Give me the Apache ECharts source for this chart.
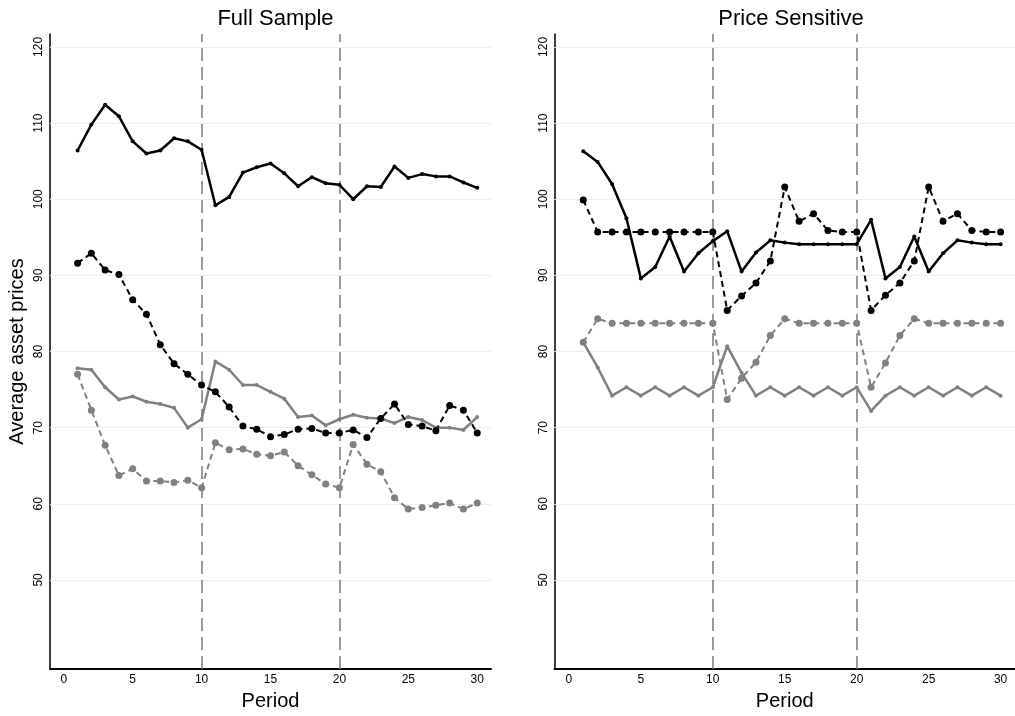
<!DOCTYPE html>
<html>
<head>
<meta charset="utf-8">
<script src="https://cdn.jsdelivr.net/npm/echarts@6/dist/echarts.min.js"></script>
<style>html,body{margin:0;padding:0;background:#fff}#c{width:1015px;height:716px}</style>
</head>
<body>
<div id="c"></div>
<script>
var periods = [1,2,3,4,5,6,7,8,9,10,11,12,13,14,15,16,17,18,19,20,21,22,23,24,25,26,27,28,29,30];
var xTicks = [0,5,10,15,20,25,30];
var yTicks = [50,60,70,80,90,100,110,120];
var breakPeriods = [10,20];

// Full Sample
var fullBlackSolid = [106.4,109.8,112.4,110.9,107.6,106.0,106.4,108.0,107.6,106.5,99.2,100.3,103.5,104.2,104.7,103.4,101.7,102.9,102.1,101.9,100.0,101.7,101.6,104.3,102.8,103.3,103.0,103.0,102.2,101.5];
var fullBlackDash = [91.6,92.9,90.7,90.1,86.8,84.9,80.9,78.4,77.0,75.6,74.7,72.7,70.2,69.8,68.8,69.1,69.8,69.9,69.3,69.3,69.7,68.7,71.2,73.1,70.4,70.2,69.6,72.9,72.3,69.3];
var fullGraySolid = [77.8,77.6,75.3,73.7,74.1,73.4,73.1,72.6,70.0,71.1,78.7,77.6,75.6,75.6,74.7,73.8,71.4,71.6,70.3,71.1,71.7,71.3,71.2,70.6,71.4,71.0,70.0,70.0,69.7,71.4];
var fullGrayDash = [77.0,72.3,67.7,63.7,64.6,63.0,63.0,62.8,63.1,62.1,68.0,67.1,67.2,66.5,66.3,66.8,65.0,63.8,62.6,62.1,67.8,65.2,64.2,60.8,59.3,59.5,59.8,60.1,59.3,60.1];

// Price Sensitive
var psBlackSolid = [106.3,104.9,102.0,97.5,89.6,91.1,95.1,90.5,92.9,94.5,95.8,90.5,93.0,94.6,94.3,94.1,94.1,94.1,94.1,94.1,97.3,89.6,91.1,95.1,90.5,92.9,94.6,94.3,94.1,94.1];
var psBlackDash = [99.9,95.7,95.7,95.7,95.7,95.7,95.7,95.7,95.7,95.7,85.4,87.3,89.0,91.9,101.6,97.1,98.1,95.9,95.7,95.7,85.4,87.4,89.0,91.9,101.6,97.1,98.1,95.9,95.7,95.7];
var psGraySolid = [81.2,77.9,74.2,75.3,74.2,75.3,74.2,75.3,74.2,75.3,80.7,77.2,74.2,75.3,74.2,75.3,74.2,75.3,74.2,75.3,72.2,74.2,75.3,74.2,75.3,74.2,75.3,74.2,75.3,74.2];
var psGrayDash = [81.2,84.3,83.7,83.7,83.7,83.7,83.7,83.7,83.7,83.7,73.7,76.5,78.6,82.1,84.3,83.7,83.7,83.7,83.7,83.7,75.3,78.5,82.1,84.3,83.7,83.7,83.7,83.7,83.7,83.7];

var titles = ['Full Sample', 'Price Sensitive'];
var FONT = '"Liberation Sans", Arial, Helvetica, sans-serif';
var BLACK = '#000000', GRAY = '#808080';

function pairs(vals){ return periods.map(function(p,i){ return [p, vals[i]]; }); }

var grids = [
  {left: 50, top: 34, width: 441, height: 642},
  {left: 554.5, top: 34, width: 466, height: 642}
];

var xAxes = [], yAxes = [], series = [];
[0,1].forEach(function(g){
  xAxes.push({
    type: 'value', gridIndex: g, min: -1, max: 31,
    name: 'Period', nameLocation: 'middle', nameGap: 22,
    nameTextStyle: {fontFamily: FONT, fontSize: 20, color: '#000'},
    axisLine: {show: true, onZero: false, lineStyle: {color: '#000', width: 2}},
    axisTick: {show: false},
    splitLine: {show: false},
    axisLabel: {customValues: xTicks, fontFamily: FONT, fontSize: 12, color: '#000', margin: 5}
  });
  yAxes.push({
    type: 'value', gridIndex: g, min: 38.3, max: 121.7,
    name: g === 0 ? 'Average asset prices' : '', nameLocation: 'middle', nameGap: 23,
    nameTextStyle: {fontFamily: FONT, fontSize: 20, color: '#000'},
    axisLine: {show: true, onZero: false, lineStyle: {color: '#000', width: 1.5}},
    axisTick: {show: false},
    splitLine: {show: false},
    axisLabel: {customValues: yTicks, rotate: 90, fontFamily: FONT, fontSize: 12, color: '#000', margin: 5}
  });
  // gridlines + reference lines
  series.push({
    type: 'line', xAxisIndex: g, yAxisIndex: g, data: [], silent: true, z: 1,
    markLine: {
      silent: true, symbol: 'none', label: {show: false}, animation: false,
      lineStyle: {color: '#e4f2ed', width: 1, type: 'solid'},
      data: yTicks.map(function(v){ return {yAxis: v}; })
    }
  });
  series.push({
    type: 'line', xAxisIndex: g, yAxisIndex: g, data: [], silent: true, z: 2,
    markLine: {
      silent: true, symbol: 'none', label: {show: false}, animation: false,
      lineStyle: {color: '#7a7a7a', width: 1.5, type: [13, 6]},
      data: breakPeriods.map(function(v){ return {xAxis: v}; })
    }
  });
});

function addSeries(g, vals, color, dashed){
  series.push({
    type: 'line', xAxisIndex: g, yAxisIndex: g, data: pairs(vals),
    symbol: 'circle', symbolSize: dashed ? 7 : 4, showSymbol: true,
    itemStyle: {color: color},
    lineStyle: {color: color, width: dashed ? 2 : 2.5, type: dashed ? [6, 4] : 'solid'},
    z: 5, animation: false
  });
}
addSeries(0, fullGrayDash, GRAY, true);
addSeries(0, fullGraySolid, GRAY, false);
addSeries(0, fullBlackDash, BLACK, true);
addSeries(0, fullBlackSolid, BLACK, false);
addSeries(1, psGrayDash, GRAY, true);
addSeries(1, psGraySolid, GRAY, false);
addSeries(1, psBlackDash, BLACK, true);
addSeries(1, psBlackSolid, BLACK, false);

var chart = echarts.init(document.getElementById('c'), null, {renderer: 'canvas'});
chart.setOption({
  backgroundColor: '#fff',
  animation: false,
  title: [
    {text: titles[0], left: 270.5, top: 3, textAlign: 'center', textStyle: {fontFamily: FONT, fontSize: 22, fontWeight: 'normal', color: '#000'}},
    {text: titles[1], left: 786, top: 3, textAlign: 'center', textStyle: {fontFamily: FONT, fontSize: 22, fontWeight: 'normal', color: '#000'}}
  ],
  grid: grids,
  xAxis: xAxes,
  yAxis: yAxes,
  series: series
});
</script>
</body>
</html>
